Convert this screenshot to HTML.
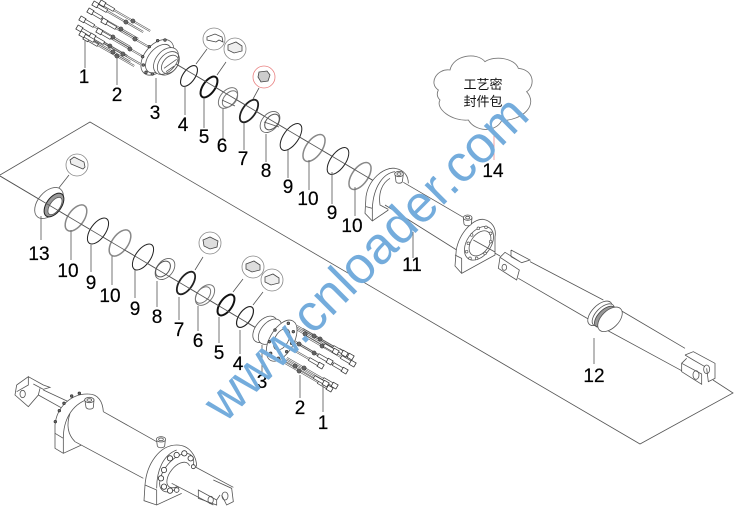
<!DOCTYPE html>
<html><head><meta charset="utf-8"><style>
html,body{margin:0;padding:0;background:#fff}
svg{display:block;filter:blur(.3px)}
text{font-family:"Liberation Sans","Noto Sans CJK SC",sans-serif}
.n text{font-size:19px;text-anchor:middle;fill:#000;stroke:#000;stroke-width:.2}
.l{stroke:#555;stroke-width:.8;fill:none}
.z{fill:none;stroke:#555;stroke-width:2.4}
.f{fill:#fff;stroke:#555;stroke-width:2.4}
.w{fill:#fff;stroke:none}
</style></head><body>
<svg width="734" height="511" viewBox="0 0 734 511" xmlns="http://www.w3.org/2000/svg">
<defs>
<g id="b">
<path d="M15 -.7H58M15 .7H58" stroke="#555" stroke-width=".6" fill="none"/>
<rect x="5" y="-1.6" width="11" height="3.2" fill="#fff" stroke="#444" stroke-width=".7"/>
<rect x="0" y="-2.3" width="5.5" height="4.6" fill="#fff" stroke="#333" stroke-width=".8"/>
<circle cx="38" cy="0" r="2.1" fill="#666" stroke="#333" stroke-width=".5"/>
</g>
</defs>
<rect width="734" height="511" fill="#fff"/>
<!-- assembly plane and axes -->
<path class="l" d="M0 175L90 122L640 444L733 393L713 380"/>
<path class="l" d="M176 64L375 181.6M475 242L500 256"/>
<path class="l" d="M0 176L268 335"/>

<!-- top bolts -->
<g>
<use href="#b" transform="translate(77 27) rotate(30)"/>
<use href="#b" transform="translate(80 18) rotate(30)"/>
<use href="#b" transform="translate(88 10) rotate(30)"/>
<use href="#b" transform="translate(93 3) rotate(30)"/>
<use href="#b" transform="translate(100 2) rotate(30)"/>
<use href="#b" transform="translate(102 20) rotate(30)"/>
<use href="#b" transform="translate(97 30) rotate(30)"/>
<use href="#b" transform="translate(90 35) rotate(30)"/>
<use href="#b" transform="translate(84 37) rotate(30)"/>
<use href="#b" transform="translate(80 33) rotate(30)"/>
</g>
<!-- top flange -->
<g transform="translate(60 0) scale(.33333)">
<ellipse class="f" cx="292" cy="172" rx="62" ry="38" transform="rotate(-50 292 172)"/>
<ellipse class="z" cx="296" cy="176" rx="50" ry="30" transform="rotate(-50 296 176)"/>
<ellipse class="f" cx="318" cy="183" rx="46" ry="30" transform="rotate(-50 318 183)"/>
<ellipse class="z" cx="325" cy="190" rx="40" ry="27" transform="rotate(-50 325 190)"/>
<ellipse class="z" cx="330" cy="193" rx="31" ry="21" transform="rotate(-50 330 193)"/>
<path class="z" d="M312 205L350 178M318 215L343 198"/>
<g fill="#777" stroke="#333" stroke-width="2">
<circle cx="250" cy="195" r="4"/><circle cx="258" cy="217" r="4"/><circle cx="277" cy="222" r="4"/><circle cx="248" cy="170" r="4"/><circle cx="268" cy="140" r="4"/><circle cx="293" cy="122" r="4"/><circle cx="315" cy="120" r="4"/>
</g>
</g>

<!-- top rings -->
<ellipse cx="189" cy="76" rx="12" ry="6" transform="rotate(-55 189 76)" fill="#fff" stroke="#222" stroke-width="1.1"/>
<ellipse cx="209" cy="87" rx="12" ry="6" transform="rotate(-55 209 87)" fill="#fff" stroke="#111" stroke-width="2"/>
<ellipse cx="228" cy="98" rx="12" ry="7.5" transform="rotate(-50 228 98)" fill="#fff" stroke="#777" stroke-width="1"/>
<ellipse cx="230" cy="99" rx="9.5" ry="6" transform="rotate(-50 230 99)" fill="none" stroke="#777" stroke-width="1"/>
<path class="l" d="M222 100L235 106"/>
<ellipse cx="249" cy="111" rx="13" ry="6.5" transform="rotate(-55 249 111)" fill="#fff" stroke="#222" stroke-width="1.8"/>
<ellipse cx="270" cy="122" rx="12" ry="8" transform="rotate(-50 270 122)" fill="#fff" stroke="#666" stroke-width=".9"/>
<ellipse cx="272" cy="122" rx="9" ry="5.8" transform="rotate(-50 272 122)" fill="none" stroke="#555" stroke-width="1"/>
<path class="l" d="M264 122L279 127"/>
<ellipse cx="291" cy="137" rx="15.5" ry="7.5" transform="rotate(-55 291 137)" fill="#fff" stroke="#222" stroke-width="1"/>
<ellipse cx="314" cy="148" rx="15.5" ry="8" transform="rotate(-55 314 148)" fill="#fff" stroke="#888" stroke-width="1.5"/>
<ellipse cx="338" cy="161" rx="15.5" ry="7.5" transform="rotate(-55 338 161)" fill="#fff" stroke="#222" stroke-width="1"/>
<ellipse cx="360" cy="176" rx="15.5" ry="8" transform="rotate(-55 360 176)" fill="#fff" stroke="#888" stroke-width="1.5"/>
<path class="l" d="M176 64L375 181.6"/>

<!-- top balloons -->
<g fill="#fff" stroke="#888" stroke-width=".8">
<circle cx="214" cy="39" r="11"/><circle cx="235" cy="49" r="11"/>
<circle cx="264" cy="77" r="11" stroke="#e98080"/>
<circle cx="77" cy="165" r="11"/><circle cx="210" cy="243" r="11"/><circle cx="253" cy="267" r="11"/><circle cx="272" cy="280" r="11"/>
</g>
<path class="l" d="M207 49L196 64M226 62L217 75M259 88L253 99M69 175L58 189M203 257L195 270M263 292L253 305M243 279L233 292"/>
<g stroke="#444" stroke-width=".8">
<path d="M207 37l8-3 7 3 1 5-4-2-3 2-9-2z" fill="#fff"/>
<path d="M228 45l8-3 6 4v5l-8 2-6-3z" fill="#eee"/>
<path d="M259 72l8-1 3 4-2 6-7 1-3-5z" fill="#ccc"/>
<path d="M70 160l4-3 10 5 1 5-2 2-12-5z" fill="#eee"/>
<path d="M203 240l7-3 8 4-1 6-7 2-6-3z" fill="#ddd"/>
<path d="M246 264l8-3 6 4v5l-8 2-6-3z" fill="#ddd"/>
<path d="M265 277l8-3 6 4v5l-8 2-6-3z" fill="#eee"/>
</g>

<!-- top cylinder, body -->
<g transform="translate(340 150) scale(.33333)">
<path class="w" d="M78 140C85 90 130 50 165 55C195 60 205 80 205 100L160 185L97 213L75 190Z"/>
<path class="z" d="M78 140C85 90 130 50 165 55C195 60 205 80 205 100M78 140L75 190L97 213L145 180"/>
<path class="z" d="M78 170L97 175L97 213M97 175C100 110 130 70 165 65M150 85C125 100 115 130 120 165L145 178"/>
<path class="w" d="M128 120L190 97L375 205L350 300L135 165Z"/>
<path class="z" d="M190 97L375 205M135 165L350 300"/>
<path class="f" d="M348 310C350 260 395 205 430 208C455 212 470 235 465 260L465 315L365 370L345 348Z"/>
<path class="z" d="M345 315L365 325L365 370"/>
<ellipse class="z" cx="417" cy="280" rx="56" ry="36" transform="rotate(-55 417 280)"/>
<ellipse class="z" cx="420" cy="280" rx="42" ry="27" transform="rotate(-55 420 280)"/>
<path class="z" d="M400 270L465 306"/>
<g fill="#fff" stroke="#555" stroke-width="2">
<circle cx="385" cy="280" r="4"/><circle cx="395" cy="255" r="4"/><circle cx="415" cy="235" r="4"/><circle cx="438" cy="232" r="4"/><circle cx="452" cy="250" r="4"/><circle cx="452" cy="275" r="4"/><circle cx="435" cy="310" r="4"/><circle cx="410" cy="325" r="4"/><circle cx="390" cy="325" r="4"/><circle cx="380" cy="305" r="4"/>
</g>
<path class="f" d="M165 72L168 95C172 102 185 100 187 95L190 72"/>
<ellipse class="f" cx="177" cy="72" rx="13" ry="8"/><ellipse class="z" cx="177" cy="72" rx="6" ry="4"/>
<path class="f" d="M370 205L372 222C376 230 392 228 394 222L396 203"/>
<ellipse class="f" cx="383" cy="203" rx="13" ry="8"/><ellipse class="z" cx="383" cy="203" rx="6" ry="4"/>
</g>

<!-- tube with clevis -->
<g transform="translate(480 210) scale(.33333)">
<path class="w" d="M60 142L75 127L370 270L330 330L55 175Z"/>
<path class="z" d="M60 142L55 175L110 210L118 180L60 142M60 142L75 127L120 155M93 120L93 140L125 158L150 150L93 120M150 155L370 270M115 205L330 330"/>
<ellipse class="z" cx="73" cy="172" rx="7" ry="9"/>
</g>

<!-- collar and rod -->
<g transform="translate(570 280) scale(.33333)">
<path class="z" d="M150 90L345 205M110 150L335 272"/>
<ellipse class="f" cx="90" cy="100" rx="46" ry="24" transform="rotate(-45 90 100)"/>
<ellipse class="f" cx="100" cy="105" rx="42" ry="22" transform="rotate(-45 100 105)"/>
<ellipse fill="#999" stroke="#444" stroke-width="2.4" cx="105" cy="110" rx="40" ry="20" transform="rotate(-45 105 110)"/>
<ellipse class="f" cx="120" cy="118" rx="45" ry="26" transform="rotate(-45 120 118)"/>
<path class="z" d="M345 225L370 215L435 250L435 295L415 305L410 265M345 225L370 240L405 260M335 250L395 282L395 313L335 275ZM335 250L350 235"/>
<ellipse class="z" cx="378" cy="285" rx="9" ry="13"/>
<ellipse class="z" cx="410" cy="268" rx="9" ry="13"/>
</g>

<!-- cloud -->
<g transform="translate(420 50) scale(.33333)">
<path d="M55 120C25 100 50 55 90 60C100 15 170 5 195 35C225 15 285 25 295 55C345 60 345 110 320 125C355 165 310 210 245 212C225 250 165 245 145 210C95 215 45 175 60 150C50 140 50 130 55 120Z" fill="#fff" stroke="#777" stroke-width="2.6"/>
</g>
<text x="483" y="89" font-size="13" text-anchor="middle" fill="#111">工艺密</text>
<text x="483" y="106" font-size="13" text-anchor="middle" fill="#111">封件包</text>
<path d="M494 132V160" stroke="#f0a0a0" stroke-width="1" fill="none"/>

<!-- lower rings -->
<ellipse cx="49" cy="203" rx="18" ry="11" transform="rotate(-50 49 203)" fill="#fff" stroke="#666" stroke-width=".9"/>
<ellipse cx="54" cy="205" rx="13.5" ry="7.5" transform="rotate(-55 54 205)" fill="#999" stroke="#222" stroke-width="1"/>
<ellipse cx="55" cy="206" rx="10" ry="5" transform="rotate(-55 55 206)" fill="#fff" stroke="#555" stroke-width=".8"/>
<ellipse cx="76" cy="218" rx="15" ry="8" transform="rotate(-55 76 218)" fill="#fff" stroke="#888" stroke-width="1.5"/>
<ellipse cx="98" cy="231" rx="15" ry="7.5" transform="rotate(-55 98 231)" fill="#fff" stroke="#222" stroke-width="1"/>
<ellipse cx="120" cy="243" rx="15" ry="8" transform="rotate(-55 120 243)" fill="#fff" stroke="#888" stroke-width="1.5"/>
<ellipse cx="143" cy="257" rx="15" ry="7.5" transform="rotate(-55 143 257)" fill="#fff" stroke="#222" stroke-width="1"/>
<ellipse cx="165" cy="269" rx="12" ry="8" transform="rotate(-50 165 269)" fill="#fff" stroke="#666" stroke-width=".9"/>
<ellipse cx="163" cy="269" rx="9" ry="6" transform="rotate(-50 163 269)" fill="none" stroke="#555" stroke-width="1"/>
<ellipse cx="186" cy="283" rx="13" ry="6.5" transform="rotate(-55 186 283)" fill="#fff" stroke="#222" stroke-width="1.8"/>
<ellipse cx="205" cy="295" rx="12" ry="7.5" transform="rotate(-50 205 295)" fill="#fff" stroke="#777" stroke-width="1"/>
<ellipse cx="203" cy="295" rx="9.5" ry="6" transform="rotate(-50 203 295)" fill="none" stroke="#777" stroke-width="1"/>
<ellipse cx="226" cy="305" rx="12" ry="6" transform="rotate(-55 226 305)" fill="#fff" stroke="#111" stroke-width="2"/>
<ellipse cx="245" cy="317" rx="12" ry="6" transform="rotate(-55 245 317)" fill="#fff" stroke="#222" stroke-width="1.2"/>
<path class="l" d="M0 176L268 335"/>

<!-- lower bolts -->
<g>
<use href="#b" transform="translate(353 358) rotate(210)"/>
<use href="#b" transform="translate(355 365) rotate(210)"/>
<use href="#b" transform="translate(347 355) rotate(210)"/>
<use href="#b" transform="translate(338 353) rotate(210)"/>
<use href="#b" transform="translate(347 372) rotate(210)"/>
<use href="#b" transform="translate(337 387) rotate(210)"/>
<use href="#b" transform="translate(332 390) rotate(210)"/>
<use href="#b" transform="translate(328 385) rotate(210)"/>
<use href="#b" transform="translate(332 363) rotate(210)"/>
<use href="#b" transform="translate(323 367) rotate(210)"/>
</g>
<!-- lower flange -->
<g transform="translate(230 270) scale(.33333)">
<ellipse class="f" cx="105" cy="178" rx="46" ry="28" transform="rotate(-50 105 178)"/>
<ellipse class="f" cx="120" cy="185" rx="44" ry="27" transform="rotate(-50 120 185)"/>
<ellipse class="f" cx="155" cy="212" rx="68" ry="36" transform="rotate(-60 155 212)"/>
<ellipse class="z" cx="155" cy="208" rx="35" ry="20" transform="rotate(-60 155 208)"/>
<g fill="#777" stroke="#333" stroke-width="2">
<circle cx="175" cy="160" r="4"/><circle cx="190" cy="185" r="4"/><circle cx="185" cy="220" r="4"/><circle cx="170" cy="245" r="4"/><circle cx="145" cy="265" r="4"/><circle cx="122" cy="250" r="4"/><circle cx="118" cy="215" r="4"/><circle cx="135" cy="180" r="4"/>
</g>
</g>

<!-- lower left assembled cylinder -->
<g transform="translate(0 370) scale(.33333)">
<path class="z" d="M130 60L205 95M115 75L205 125"/>
<path class="z" d="M85 20L130 45L150 52L130 58L100 42M50 45L85 20L85 45L50 65M50 45L45 75L85 110L115 75L120 55"/>
<ellipse class="z" cx="68" cy="72" rx="8" ry="11"/>
<path class="w" d="M165 165C170 110 215 70 265 72C295 72 308 95 310 125L255 220L190 250L165 235Z"/>
<path class="z" d="M165 165C170 110 215 70 265 72C295 72 308 95 310 125M165 165L165 235L190 250L255 220"/>
<path class="z" d="M165 190L190 205L190 250M190 205C190 150 215 105 262 88M210 130C200 160 200 190 225 215"/>
<path class="w" d="M225 130L310 125L470 215L430 325L225 215Z"/>
<path class="z" d="M310 125L470 215M225 215L430 325"/>
<g fill="#666" stroke="#333" stroke-width="2"><circle cx="192" cy="100" r="4"/><circle cx="178" cy="122" r="4"/><circle cx="166" cy="155" r="4"/><circle cx="215" cy="78" r="4"/><circle cx="238" cy="70" r="4"/></g>
<path class="f" d="M255 92L258 112C262 120 278 118 280 112L282 90"/>
<ellipse class="f" cx="268" cy="90" rx="14" ry="8"/><ellipse class="z" cx="268" cy="90" rx="7" ry="4"/>
<path class="f" d="M470 212L472 228C476 236 492 234 494 228L496 210"/>
<ellipse class="f" cx="483" cy="208" rx="14" ry="8"/><ellipse class="z" cx="483" cy="208" rx="7" ry="4"/>
<path class="w" d="M435 345C440 280 480 225 530 225C570 225 590 260 590 290L545 370L470 405L432 392Z"/>
<path class="z" d="M435 345C440 280 480 225 530 225C570 225 590 260 590 290M435 345L432 392L470 405L545 370"/>
<path class="z" d="M435 345L470 360L470 405M470 355C470 300 490 255 530 240"/>
<ellipse class="z" cx="530" cy="308" rx="68" ry="36" transform="rotate(-51 530 308)"/>
<ellipse class="z" cx="535" cy="315" rx="45" ry="25" transform="rotate(-51 535 315)"/>
<path class="w" d="M575 285L700 352L640 405L515 340L540 300Z"/>
<path class="z" d="M575 285L700 352M515 340L640 405"/>
<path class="z" d="M595 360L650 390L650 405L595 385ZM640 330L695 355L700 395L680 405L665 375M650 390L660 375"/>
<ellipse class="z" cx="632" cy="390" rx="8" ry="11"/><ellipse class="z" cx="675" cy="378" rx="9" ry="12"/>
<g fill="#fff" stroke="#333" stroke-width="2.4">
<circle cx="492" cy="300" r="8"/><circle cx="483" cy="325" r="8"/><circle cx="492" cy="350" r="8"/><circle cx="510" cy="265" r="8"/><circle cx="530" cy="255" r="8"/><circle cx="553" cy="250" r="8"/><circle cx="572" cy="265" r="8"/><circle cx="580" cy="290" r="6"/><circle cx="510" cy="362" r="8"/><circle cx="530" cy="360" r="7"/>
</g>
</g>

<!-- leaders -->
<path class="l" style="stroke:#666;stroke-width:.9" d="M85 40V68M117 57V85M156 78V103M185 86V115M204 98V128M223 108V140M244 123V150M266 134V162M288 150V178M309 160V190M332 172V204M355 187V216M413 232V258M594 338V364M41 216V240M71 230V260M91 245V272M112 256V285M135 270V298M157 281V307M179 297V320M198 306V331M219 317V343M240 330V354M262 345V372M300 375V398M323 385V412"/>

<!-- labels -->
<g class="n">
<text x="84" y="83">1</text><text x="117" y="101">2</text><text x="155" y="119">3</text><text x="183" y="131">4</text><text x="204" y="143">5</text><text x="222" y="152">6</text><text x="243" y="165">7</text><text x="266" y="177">8</text><text x="288" y="193">9</text><text x="308" y="205">10</text><text x="332" y="219">9</text><text x="352" y="232">10</text><text x="412" y="271">11</text><text x="594" y="382">12</text><text x="493" y="177">14</text>
<text x="39" y="260">13</text><text x="68" y="277">10</text><text x="91" y="289">9</text><text x="110" y="302">10</text><text x="135" y="315">9</text><text x="157" y="323">8</text><text x="179" y="336">7</text><text x="198" y="347">6</text><text x="219" y="359">5</text><text x="238" y="370">4</text><text x="262" y="388">3</text><text x="300" y="414">2</text><text x="323" y="429">1</text>
</g>

<!-- watermark -->
<text transform="translate(224.8 423.8) rotate(-45)" font-size="52" fill="#74acdc" style="font-family:'Liberation Sans',sans-serif">www.cnloader.com</text>
</svg>
</body></html>
